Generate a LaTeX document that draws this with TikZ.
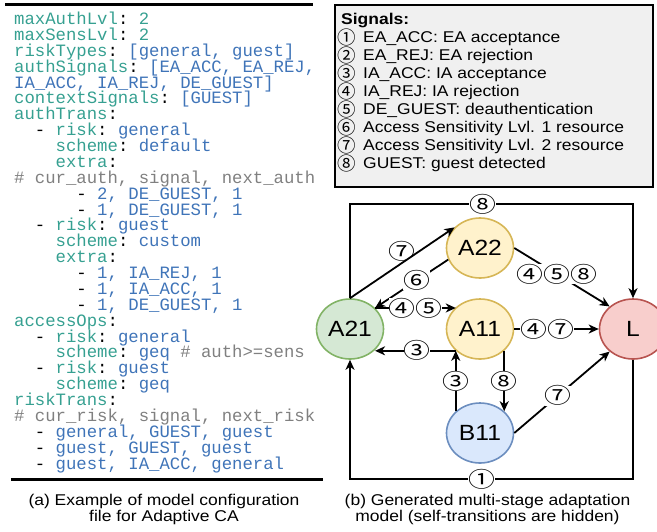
\documentclass[tikz,border=0pt]{standalone}
\usepackage{fontspec}
\setmainfont[FakeStretch=1.12]{Liberation Sans}
\setmonofont{Liberation Mono}
\newfontfamily\cfont{Noto Sans CJK SC}
\newfontfamily\gfont[FakeStretch=1.25]{Noto Sans CJK SC}
\usetikzlibrary{shapes.geometric,arrows.meta}
\definecolor{keyc}{HTML}{36A091}
\definecolor{valc}{HTML}{3F74B8}
\definecolor{comc}{HTML}{808080}
\definecolor{boxfill}{HTML}{F0F0F0}
\definecolor{gfill}{HTML}{D5E8D4}\definecolor{gline}{HTML}{82B366}
\definecolor{yfill}{HTML}{FFF2CC}\definecolor{yline}{HTML}{D6B656}
\definecolor{rfill}{HTML}{F8CECC}\definecolor{rline}{HTML}{B85450}
\definecolor{bfill}{HTML}{DAE8FC}\definecolor{bline}{HTML}{6C8EBF}
\newcommand\ky[1]{\textcolor{keyc}{#1}}
\newcommand\vl[1]{\textcolor{valc}{#1}}
\newcommand\cm[1]{\textcolor{comc}{#1}}
\newcommand\cw{10.38}
\newcommand\cl[3]{\node[codeline] (cl#2) at ({14+#1*\cw},{24.5+15.88*#2}) {#3};}
\tikzset{
  codeline/.style={anchor=base west, inner sep=0pt, font=\ttfamily\fontsize{17.3}{18}\selectfont\frenchspacing},
  sigtxt/.style={anchor=base west, inner sep=0pt, font=\fontsize{15.6}{18}\selectfont},
  signum/.style={anchor=base west, inner sep=0pt, yshift=-2pt, text height=12pt, text depth=2pt, font=\cfont\fontsize{18.5}{20}\selectfont},
  captxt/.style={anchor=base, inner sep=0pt, font=\fontsize{15.6}{18}\selectfont},
  state/.style={ellipse, draw, line width=1.6pt, minimum width=67pt, minimum height=60pt, inner sep=0pt, font=\fontsize{22}{24}\selectfont},
  arr/.style={line width=1.8pt, -{Stealth[length=10pt,width=9pt,inset=3pt]}},
  lab/.style={fill=white, inner sep=0pt, font=\gfont\fontsize{21.5}{22}\selectfont},
  plainlab/.style={inner sep=0pt, font=\gfont\fontsize{21.5}{22}\selectfont},
}
\begin{document}
\begin{tikzpicture}[x=1pt,y=-1pt]
\useasboundingbox (0,0) rectangle (657,531);
% left panel: configuration file
\draw[line width=2.7pt] (5,4.7) -- (313,4.7);
\cl{0}{0}{\ky{maxAuthLvl}: \ky{2}}
\cl{0}{1}{\ky{maxSensLvl}: \ky{2}}
\cl{0}{2}{\ky{riskTypes}: \vl{[general, guest]}}
\cl{0}{3}{\ky{authSignals}: \vl{[EA\_ACC, EA\_REJ,}}
\cl{0}{4}{\vl{IA\_ACC, IA\_REJ, DE\_GUEST]}}
\cl{0}{5}{\ky{contextSignals}: \vl{[GUEST]}}
\cl{0}{6}{\ky{authTrans}:}
\cl{2}{7}{- \ky{risk}: \vl{general}}
\cl{4}{8}{\ky{scheme}: \vl{default}}
\cl{4}{9}{\ky{extra}:}
\cl{0}{10}{\cm{\# cur\_auth, signal, next\_auth}}
\cl{6}{11}{- \vl{2, DE\_GUEST, 1}}
\cl{6}{12}{- \vl{1, DE\_GUEST, 1}}
\cl{2}{13}{- \ky{risk}: \vl{guest}}
\cl{4}{14}{\ky{scheme}: \vl{custom}}
\cl{4}{15}{\ky{extra}:}
\cl{6}{16}{- \vl{1, IA\_REJ, 1}}
\cl{6}{17}{- \vl{1, IA\_ACC, 1}}
\cl{6}{18}{- \vl{1, DE\_GUEST, 1}}
\cl{0}{19}{\ky{accessOps}:}
\cl{2}{20}{- \ky{risk}: \vl{general}}
\cl{4}{21}{\ky{scheme}: \vl{geq} \cm{\# auth>=sens}}
\cl{2}{22}{- \ky{risk}: \vl{guest}}
\cl{4}{23}{\ky{scheme}: \vl{geq}}
\cl{0}{24}{\ky{riskTrans}:}
\cl{0}{25}{\cm{\# cur\_risk, signal, next\_risk}}
\cl{2}{26}{- \vl{general, GUEST, guest}}
\cl{2}{27}{- \vl{guest, GUEST, guest}}
\cl{2}{28}{- \vl{guest, IA\_ACC, general}}
\draw[line width=2.3pt] (11,479.5) -- (323,479.5);
\node[captxt] (capa1) at (164,505.5) {(a) Example of model configuration};
\node[captxt] (capa2) at (164,521.8) {file for Adaptive CA};
% signals box
\draw[line width=2pt, fill=boxfill] (335,4.5) rectangle (652.7,186.7);
\node[sigtxt, font=\bfseries\fontsize{15.6}{18}\selectfont] (sigh) at (341,24) {Signals:};
\node[signum] (n1) at (337,42) {①}; \node[sigtxt] (s1) at (363,42) {EA\_ACC: EA acceptance};
\node[signum] (n2) at (337,60) {②}; \node[sigtxt] (s2) at (363,60) {EA\_REJ: EA rejection};
\node[signum] (n3) at (337,78) {③}; \node[sigtxt] (s3) at (363,78) {IA\_ACC: IA acceptance};
\node[signum] (n4) at (337,96) {④}; \node[sigtxt] (s4) at (363,96) {IA\_REJ: IA rejection};
\node[signum] (n5) at (337,114) {⑤}; \node[sigtxt] (s5) at (363,114) {DE\_GUEST: deauthentication};
\node[signum] (n6) at (337,132) {⑥}; \node[sigtxt] (s6) at (363,132) {Access Sensitivity Lvl. 1 resource};
\node[signum] (n7) at (337,150) {⑦}; \node[sigtxt] (s7) at (363,150) {Access Sensitivity Lvl. 2 resource};
\node[signum] (n8) at (337,168) {⑧}; \node[sigtxt] (s8) at (363,168) {GUEST: guest detected};
% graph
\node[state, fill=gfill, draw=gline] (A21) at (350,329) {A21};
\node[state, fill=yfill, draw=yline] (A22) at (480,248) {A22};
\node[state, fill=yfill, draw=yline] (A11) at (480,329) {A11};
\node[state, fill=rfill, draw=rline] (L) at (633,329) {L};
\node[state, fill=bfill, draw=bline] (B11) at (480,433) {B11};
\coordinate (top) at (0,204);
\coordinate (bot) at (0,479);
\draw[arr] (A21.north) -- (A21.north |- top) -- node[lab, pos=0.468] {⑧} (L.north |- top) -- (L.north);
\draw[arr] (L.south) -- (L.south |- bot) -- node[lab, pos=0.534] {①} (A21.south |- bot) -- (A21.south);
\draw[arr] (A21.north) -- node[plainlab, pos=0.5, yshift=11.5pt] {⑦} (A22.141);
\draw[arr] (A22.200) -- node[lab, pos=0.43] {⑥} (A21.40);
\draw[arr] (A21.40) -- node[lab, pos=0.5] {④⑤} (A21.40 -| A11.138);
\draw[arr] (A11.east) -- node[lab, pos=0.39] {④⑦} (L.west);
\draw[arr] (A22.east) -- node[lab, pos=0.45] {④⑤⑧} (L.136);
\draw[arr] (A11.222) -- node[lab, pos=0.48] {③} (A11.222 -| A21.320);
\draw[arr] (B11.138) -- node[lab, pos=0.5] {③} (A11.222);
\draw[arr] (A11.318) -- node[lab, pos=0.5] {⑧} (B11.42);
\draw[arr] (B11.east) -- node[lab, pos=0.46] {⑦} (L.224);
\node[captxt] (capb1) at (487.5,505.5) {(b) Generated multi-stage adaptation};
\node[captxt] (capb2) at (487.5,521.8) {model (self-transitions are hidden)};
\end{tikzpicture}
\end{document}
